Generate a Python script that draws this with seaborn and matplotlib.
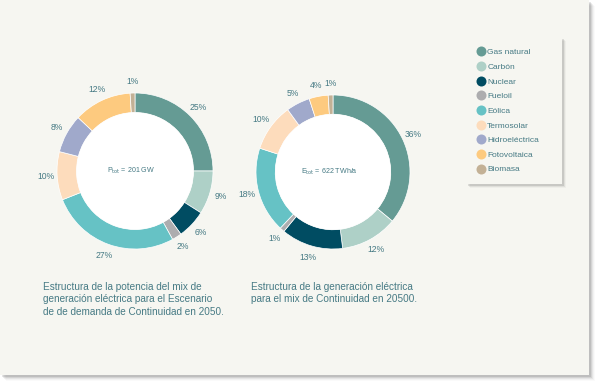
import matplotlib
matplotlib.use("Agg")
import matplotlib.pyplot as plt
from matplotlib.patches import Rectangle, Circle
from matplotlib.lines import Line2D
import seaborn as sns

# data
categories = ["Gas natural", "Carbón", "Nuclear", "Fueloil", "Eólica",
              "Termosolar", "Hidroeléctrica", "Fotovoltaica", "Biomasa"]
potencia_pct = [25, 9, 6, 2, 27, 10, 8, 12, 1]
generacion_pct = [36, 12, 13, 1, 18, 10, 5, 4, 1]
colors = ["#659b94", "#aed0c7", "#004c62", "#adadaf", "#66c2c5",
          "#fddcbc", "#a0a9cb", "#fdca7f", "#c3b196"]

center_left = r"P$_{\mathrm{tot}}$ = 201 GW"
center_right = r"E$_{\mathrm{tot}}$ = 622 TWh/a"
caption_left = ("Estructura de la potencia del mix de\n"
                "generación eléctrica para el Escenario\n"
                "de de demanda de Continuidad en 2050.")
caption_right = ("Estructura de la generación eléctrica\n"
                 "para el mix de Continuidad en 20500.")

sns.set_theme(style="white")
plt.rcParams["font.family"] = ["Liberation Sans", "DejaVu Sans"]
plt.rcParams["mathtext.default"] = "regular"

TEXT = "#467a84"
PANEL = "#f6f6f1"
W, H = 598, 392

fig = plt.figure(figsize=(W / 100, H / 100), dpi=100)
fig.patch.set_facecolor("white")


def px_rect(x, y, w, h, **kw):
    # rectangle in pixel coords (origin top-left)
    return Rectangle((x / W, 1 - (y + h) / H), w / W, h / H,
                     transform=fig.transFigure, **kw)


# panel shadow + panel
for i, a in enumerate([0.10, 0.07, 0.05, 0.03, 0.02]):
    fig.patches.append(px_rect(2 + i, 2 + i, 589, 375, facecolor="#000000",
                               alpha=a, edgecolor="none", zorder=0))
fig.patches.append(px_rect(0, 0, 589, 375, facecolor=PANEL, edgecolor="none", zorder=1))

# legend box shadow + box
for i, a in enumerate([0.10, 0.06, 0.03]):
    fig.patches.append(px_rect(468 + i, 39 + i, 96, 147, facecolor="#000000",
                               alpha=a, edgecolor="none", zorder=1))
fig.patches.append(px_rect(466, 37, 96, 147, facecolor=PANEL, edgecolor="none", zorder=2))


def donut(cx, cy, r, values, center_text):
    ax = fig.add_axes([(cx - r) / W, 1 - (cy + r) / H, 2 * r / W, 2 * r / H])
    ax.set_zorder(3)
    ax.set_facecolor("none")
    ax.pie(values, colors=colors, startangle=90, counterclock=False,
           autopct="%.0f%%", pctdistance=1.15, radius=1,
           wedgeprops=dict(width=0.25, edgecolor="white", linewidth=0.5),
           textprops=dict(color=TEXT, fontsize=6.2))
    ax.add_patch(Circle((0, 0), 0.75, facecolor="white", edgecolor="none"))
    ax.text(-0.05, 0, center_text, ha="center", va="center", color=TEXT, fontsize=5.1)
    ax.set_xlim(-1, 1)
    ax.set_ylim(-1, 1)
    ax.set_aspect("equal")
    ax.axis("off")
    return ax


donut(135, 171, 78, potencia_pct, center_left)
donut(333, 172, 77, generacion_pct, center_right)

# legend
handles = [Line2D([], [], marker="o", linestyle="none", markersize=7.2,
                  markerfacecolor=c, markeredgecolor="none") for c in colors]
leg = fig.legend(handles, categories, loc="upper left",
                 bbox_to_anchor=(473 / W, 1 - 45 / H), frameon=False,
                 fontsize=6.0, labelspacing=0.82, handletextpad=0.3,
                 handlelength=1.0, borderaxespad=0)
for t in leg.get_texts():
    t.set_color(TEXT)
leg.set_zorder(5)

# captions
cap_kw = dict(color=TEXT, fontsize=7.2, va="top", ha="left", linespacing=1.3,
              family=["Liberation Sans Narrow", "Liberation Sans", "DejaVu Sans"])
fig.text(43 / W, 1 - 282 / H, caption_left, **cap_kw)
fig.text(251 / W, 1 - 282 / H, caption_right, **cap_kw)

fig.savefig("out.png", dpi=100)
